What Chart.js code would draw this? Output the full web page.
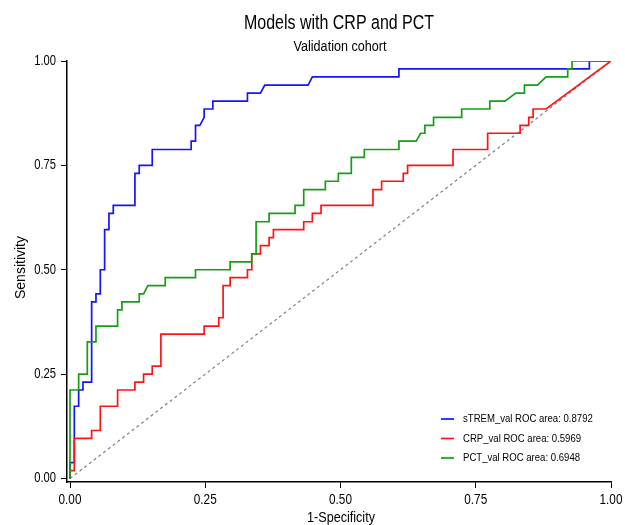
<!DOCTYPE html>
<html>
<head>
<meta charset="utf-8">
<script src="https://cdn.jsdelivr.net/npm/chart.js@4.4.1/dist/chart.umd.min.js"></script>
<style>
  html, body { margin: 0; padding: 0; background: #fff; }
  canvas { display: block; }
</style>
</head>
<body>
<canvas id="rocChart" width="625" height="525"></canvas>
<script>
const chartTitle = "Models with CRP and PCT";
const chartSubtitle = "Validation cohort";
const xTitle = "1-Specificity";
const yTitle = "Sensitivity";
const tickValues = [0, 0.25, 0.5, 0.75, 1];

const modelNames = ["sTREM_val", "CRP_val", "PCT_val"];
const rocAreas = ["0.8792", "0.5969", "0.6948"];
const lineColors = ["#1414ff", "#ff1414", "#14a014"];

// sTREM step curve (1-specificity, sensitivity)
const stremFpr = [0, 0, 0.008, 0.008, 0.016, 0.016, 0.024, 0.024, 0.040, 0.040, 0.048, 0.048,
  0.056, 0.056, 0.064, 0.064, 0.072, 0.072, 0.080, 0.080, 0.120, 0.120, 0.128, 0.128, 0.152, 0.152,
  0.224, 0.224, 0.232, 0.232, 0.240, 0.248, 0.248, 0.264, 0.264, 0.328, 0.328, 0.352, 0.360, 0.440,
  0.448, 0.608, 0.608, 0.960, 0.960, 1];
const stremTpr = [0, 0.038, 0.038, 0.173, 0.173, 0.212, 0.212, 0.231, 0.231, 0.423, 0.423, 0.442,
  0.442, 0.500, 0.500, 0.596, 0.596, 0.635, 0.635, 0.654, 0.654, 0.731, 0.731, 0.750, 0.750, 0.788,
  0.788, 0.808, 0.808, 0.846, 0.846, 0.865, 0.885, 0.885, 0.904, 0.904, 0.923, 0.923, 0.942, 0.942,
  0.962, 0.962, 0.981, 0.981, 1, 1];

// CRP step curve
const crpFpr = [0, 0, 0.008, 0.008, 0.040, 0.040, 0.056, 0.056, 0.088, 0.088, 0.120, 0.120, 0.136,
  0.136, 0.152, 0.152, 0.168, 0.168, 0.248, 0.248, 0.275, 0.275, 0.283, 0.283, 0.296, 0.296, 0.328,
  0.328, 0.336, 0.336, 0.352, 0.352, 0.368, 0.368, 0.376, 0.376, 0.432, 0.432, 0.448, 0.448, 0.464,
  0.464, 0.560, 0.560, 0.576, 0.576, 0.616, 0.616, 0.624, 0.624, 0.708, 0.708, 0.772, 0.772, 0.832,
  0.832, 0.848, 0.848, 0.856, 0.856, 0.880, 1];
const crpTpr = [0, 0.019, 0.019, 0.096, 0.096, 0.115, 0.115, 0.173, 0.173, 0.212, 0.212, 0.231, 0.231,
  0.250, 0.250, 0.269, 0.269, 0.346, 0.346, 0.365, 0.365, 0.385, 0.385, 0.462, 0.462, 0.481, 0.481,
  0.500, 0.500, 0.538, 0.538, 0.558, 0.558, 0.577, 0.577, 0.596, 0.596, 0.615, 0.615, 0.635, 0.635,
  0.654, 0.654, 0.692, 0.692, 0.712, 0.712, 0.731, 0.731, 0.750, 0.750, 0.788, 0.788, 0.827, 0.827,
  0.846, 0.846, 0.865, 0.865, 0.885, 0.885, 1];

// PCT step curve
const pctFpr = [0, 0, 0.016, 0.016, 0.032, 0.032, 0.048, 0.048, 0.088, 0.088, 0.096, 0.096, 0.128,
  0.128, 0.136, 0.144, 0.176, 0.176, 0.232, 0.232, 0.296, 0.296, 0.336, 0.336, 0.344, 0.344, 0.368,
  0.368, 0.416, 0.416, 0.432, 0.432, 0.472, 0.472, 0.496, 0.496, 0.520, 0.520, 0.544, 0.544, 0.608,
  0.608, 0.640, 0.648, 0.656, 0.656, 0.672, 0.672, 0.724, 0.724, 0.776, 0.776, 0.804, 0.824, 0.840,
  0.840, 0.864, 0.880, 0.920, 0.920, 0.928, 0.928, 1];
const pctTpr = [0, 0.212, 0.212, 0.250, 0.250, 0.327, 0.327, 0.365, 0.365, 0.404, 0.404, 0.423, 0.423,
  0.442, 0.442, 0.462, 0.462, 0.481, 0.481, 0.500, 0.500, 0.519, 0.519, 0.538, 0.538, 0.615, 0.615,
  0.635, 0.635, 0.654, 0.654, 0.692, 0.692, 0.712, 0.712, 0.731, 0.731, 0.769, 0.769, 0.788, 0.788,
  0.808, 0.808, 0.827, 0.827, 0.846, 0.846, 0.865, 0.865, 0.885, 0.885, 0.904, 0.904, 0.923, 0.923,
  0.942, 0.942, 0.962, 0.962, 0.981, 0.981, 1, 1];

const refX = [0, 1];
const refY = [0, 1];

const FONT = '"Liberation Sans", Arial, Helvetica, sans-serif';

function toPoints(xs, ys) {
  return xs.map((x, i) => ({ x: x, y: ys[i] }));
}

function curve(idx, xs, ys, order) {
  return {
    label: `${modelNames[idx]} ROC area: ${rocAreas[idx]}`,
    data: toPoints(xs, ys),
    borderColor: lineColors[idx],
    backgroundColor: lineColors[idx],
    borderWidth: 1.7,
    pointRadius: 0,
    showLine: true,
    tension: 0,
    order: order
  };
}

// the original text is a narrow Helvetica, so squeeze Liberation Sans sideways
function narrowText(ctx, text, x, y, size, sx, align, rot) {
  ctx.save();
  ctx.translate(x, y);
  if (rot) ctx.rotate(rot);
  ctx.scale(sx, 1);
  ctx.font = size + "px " + FONT;
  ctx.textAlign = align;
  ctx.textBaseline = "middle";
  ctx.fillStyle = "#000";
  ctx.fillText(text, 0, 0);
  ctx.restore();
}

const annotations = {
  id: "annotations",
  afterDraw(chart) {
    const ctx = chart.ctx;
    const xs = chart.scales.x, ys = chart.scales.y;

    narrowText(ctx, chartTitle, 339, 23.5, 19.5, 0.82, "center");
    narrowText(ctx, chartSubtitle, 340, 47.5, 14, 0.9, "center");

    xs.ticks.forEach(t => {
      narrowText(ctx, t.value.toFixed(2), xs.getPixelForValue(t.value), 500, 14, 0.84, "center");
    });
    ys.ticks.forEach(t => {
      narrowText(ctx, t.value.toFixed(2), 56, ys.getPixelForValue(t.value), 14, 0.8, "right");
    });
    narrowText(ctx, xTitle, 341, 518, 14, 0.9, "center");
    narrowText(ctx, yTitle, 21, 267.5, 14, 1, "center", -Math.PI / 2);

    for (let i = 0; i < modelNames.length; i++) {
      const y = 419 + i * 19.5;
      ctx.save();
      ctx.strokeStyle = lineColors[i];
      ctx.lineWidth = 1.7;
      ctx.beginPath();
      ctx.moveTo(441, y);
      ctx.lineTo(454, y);
      ctx.stroke();
      ctx.restore();
      narrowText(ctx, `${modelNames[i]} ROC area: ${rocAreas[i]}`, 463, y, 11, 0.87, "left");
    }
  }
};

function axisOptions(min, isY) {
  return {
    type: "linear",
    min: min,
    max: 1,
    afterBuildTicks: scale => { scale.ticks = tickValues.map(v => ({ value: v })); },
    afterFit: scale => {
      if (isY) scale.width = 67; else scale.height = 43;
      scale.paddingLeft = scale.paddingRight = 0;
      scale.paddingTop = scale.paddingBottom = 0;
    },
    ticks: { display: false },
    grid: {
      display: true,
      drawOnChartArea: false,
      drawTicks: true,
      tickLength: 6,
      color: "#000",
      lineWidth: 1
    },
    border: { display: true, color: "#000", width: 1.5 },
    title: { display: false }
  };
}

window.onload = function () {
  const ctx = document.getElementById("rocChart").getContext("2d");
  window.rocChart = new Chart(ctx, {
    type: "scatter",
    data: {
      datasets: [
        curve(0, stremFpr, stremTpr, 3),
        curve(1, crpFpr, crpTpr, 2),
        curve(2, pctFpr, pctTpr, 1),
        {
          label: "reference",
          data: toPoints(refX, refY),
          borderColor: "#808080",
          borderWidth: 1.2,
          borderDash: [3, 3],
          pointRadius: 0,
          showLine: true,
          order: 4
        }
      ]
    },
    options: {
      responsive: false,
      devicePixelRatio: 1,
      animation: false,
      layout: { padding: { top: 61, right: 14, left: 0, bottom: 0 } },
      plugins: {
        legend: { display: false },
        tooltip: { enabled: false }
      },
      scales: {
        x: axisOptions(-0.00555, false),
        y: axisOptions(-0.0084, true)
      }
    },
    plugins: [annotations]
  });
};
</script>
</body>
</html>
